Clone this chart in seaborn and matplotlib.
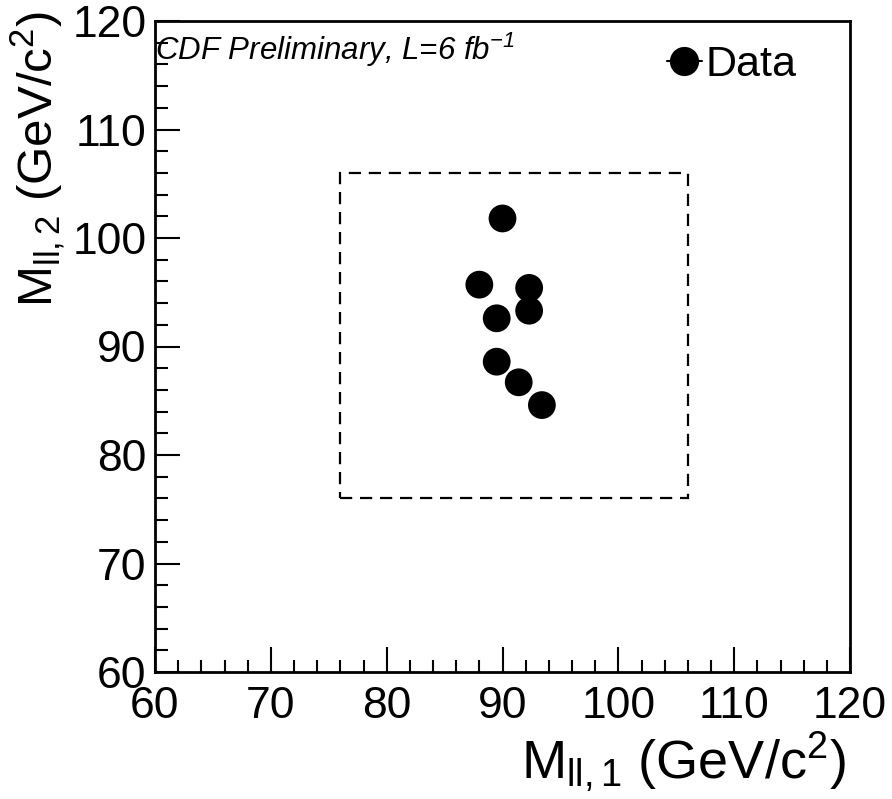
import matplotlib
matplotlib.use("Agg")
import matplotlib.pyplot as plt
from matplotlib.lines import Line2D
from matplotlib.patches import Rectangle
from matplotlib.ticker import MultipleLocator
import pandas as pd
import seaborn as sns

# Candidate ZZ events: invariant masses of the two lepton pairs (GeV/c^2)
m_ll1 = [90.0, 88.0, 92.3, 92.3, 89.5, 89.5, 91.4, 93.4]
m_ll2 = [101.8, 95.7, 95.4, 93.3, 92.6, 88.6, 86.7, 84.6]

# Signal window on both pair masses
window_lo = 76.0
window_hi = 106.0

x_ticks = [60, 70, 80, 90, 100, 110, 120]
y_ticks = [60, 70, 80, 90, 100, 110, 120]

df = pd.DataFrame({"m1": m_ll1, "m2": m_ll2})

sns.set_theme(style="white")
plt.rcParams["font.family"] = ["Liberation Sans", "DejaVu Sans"]
plt.rcParams["mathtext.fontset"] = "custom"
plt.rcParams["mathtext.rm"] = "Liberation Sans"
plt.rcParams["mathtext.it"] = "Liberation Sans:italic"
plt.rcParams["text.color"] = "black"

fig = plt.figure(figsize=(8.92, 7.99), dpi=100)
ax = fig.add_axes([155 / 892, 1 - 672 / 799, 695 / 892, 651 / 799])

sns.scatterplot(data=df, x="m1", y="m2", ax=ax, color="black", s=400,
                edgecolor="none", legend=False, zorder=3)

ax.add_patch(Rectangle((window_lo, window_lo), window_hi - window_lo,
                       window_hi - window_lo, fill=False, edgecolor="black",
                       linewidth=1.6, linestyle=(0, (5.5, 3.5)), zorder=2))

ax.set_xlim(60, 120)
ax.set_ylim(60, 120)
ax.set_xticks(x_ticks)
ax.set_yticks(y_ticks)
ax.xaxis.set_minor_locator(MultipleLocator(2))
ax.yaxis.set_minor_locator(MultipleLocator(2))
ax.tick_params(axis="both", which="major", direction="in", length=18,
               width=1.5, labelsize=32, color="black", labelcolor="black")
ax.tick_params(axis="both", which="minor", direction="in", length=9,
               width=1.5, color="black")
ax.tick_params(axis="x", which="both", top=False, bottom=True, pad=10)
ax.tick_params(axis="y", which="both", right=False, left=True, pad=6)
for lab in ax.get_yticklabels():
    lab.set_verticalalignment("center_baseline")
for sp in ax.spines.values():
    sp.set_visible(True)
    sp.set_color("black")
    sp.set_linewidth(2.0)
ax.set_xlabel("")
ax.set_ylabel("")

fig.text(846 / 892, 4 / 799, r"$\mathregular{M_{ll,1}\ (GeV/c^{2})}$",
         ha="right", va="bottom", fontsize=39, color="black")
fig.text(38 / 892, 1 - 11 / 799, r"$\mathregular{M_{ll,2}\ (GeV/c^{2})}$",
         ha="center", va="top", rotation=90, fontsize=35.5, color="black")

ax.text(0.0, 0.955, r"CDF Preliminary, L=6 fb$^{\mathregular{-1}}$",
        transform=ax.transAxes, ha="left", va="center", fontsize=22.5,
        style="italic", color="black")

handle = Line2D([], [], marker="o", color="black", markersize=20,
                linestyle="-", linewidth=1.5)
leg = ax.legend(handles=[handle], labels=["Data"], loc="center left",
                bbox_to_anchor=(0.737, 0.932), frameon=False, fontsize=31,
                handlelength=0.8, handletextpad=0.1, borderpad=0,
                borderaxespad=0)
for t in leg.get_texts():
    t.set_color("black")

fig.savefig("out.png", dpi=100)
